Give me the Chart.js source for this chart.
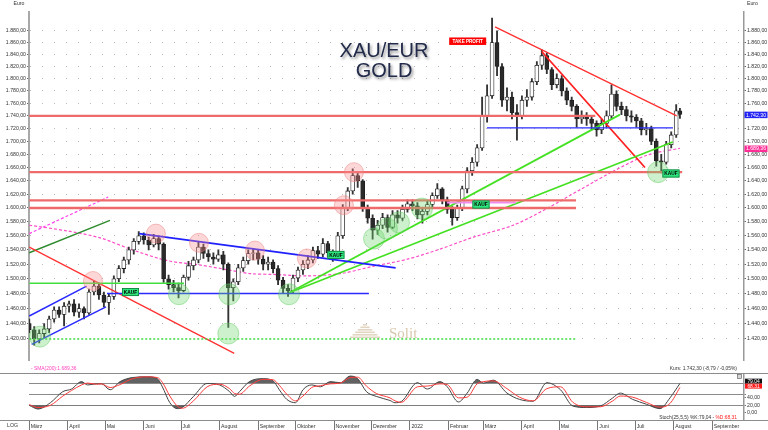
<!DOCTYPE html>
<html><head><meta charset="utf-8">
<script src="https://cdn.jsdelivr.net/npm/chart.js@4.4.1/dist/chart.umd.min.js"></script>
<style>
html,body{margin:0;padding:0;background:#fff;overflow:hidden}
#wrap{position:relative;width:768px;height:430px;background:#fff}
#cA{position:absolute;left:0;top:0;width:768px;height:372px}
#cB{position:absolute;left:0;top:372px;width:768px;height:58px}
</style></head><body>
<div id="wrap"><canvas id="cA" width="768" height="372"></canvas><canvas id="cB" width="768" height="58"></canvas></div>
<script>
// ---------- DATA (days counted from 1 March 2021) ----------
const candleDays = [0,4,8,12,16,20,24,28,32,36,40,44,48,52,56,60,64,68,72,76,80,84,88,92,96,100,104,108,112,116,120,124,128,132,136,140,144,148,152,156,160,164,168,172,176,180,184,188,192,196,200,204,208,212,216,220,224,228,232,236,240,244,248,252,256,260,264,268,272,276,280,284,288,292,296,300,304,308,312,316,320,324,328,332,336,340,344,348,352,356,360,364,368,372,376,380,384,388,392,396,400,404,408,412,416,420,424,428,432,436,440,444,448,452,456,460,464,468,472,476,480,484,488,492,496,500,504,508,512,516,520,523];
const opens  = [1440,1432,1420,1427,1433,1446,1458,1452,1463,1466,1455,1460,1454,1482,1490,1478,1468,1476,1500,1514,1526,1540,1552,1560,1554,1547,1556,1548,1500,1492,1488,1484,1502,1518,1526,1544,1535,1530,1527,1533,1520,1488,1496,1515,1525,1535,1536,1527,1520,1523,1514,1498,1487,1484,1501,1512,1520,1526,1539,1534,1549,1536,1531,1560,1600,1625,1648,1640,1600,1585,1568,1575,1586,1572,1590,1585,1598,1606,1603,1590,1595,1605,1618,1628,1612,1598,1586,1600,1628,1655,1668,1690,1740,1772,1860,1820,1765,1770,1745,1740,1765,1770,1795,1822,1838,1815,1790,1800,1780,1765,1755,1735,1738,1735,1728,1718,1728,1740,1775,1755,1750,1740,1738,1732,1718,1720,1700,1670,1668,1695,1710,1748];
const highs  = [1446,1436,1432,1440,1450,1462,1462,1468,1470,1472,1466,1462,1486,1497,1494,1482,1480,1504,1518,1530,1544,1556,1566,1564,1558,1562,1560,1550,1505,1498,1494,1505,1524,1530,1552,1548,1540,1536,1540,1538,1522,1500,1520,1530,1540,1542,1540,1532,1530,1526,1518,1502,1492,1505,1516,1525,1532,1544,1545,1556,1552,1540,1565,1605,1630,1658,1652,1642,1604,1590,1582,1592,1590,1596,1596,1604,1612,1612,1608,1600,1610,1622,1636,1630,1616,1602,1604,1632,1660,1675,1695,1770,1790,1902,1880,1825,1785,1778,1758,1772,1782,1800,1828,1848,1842,1818,1808,1805,1785,1770,1758,1748,1745,1740,1732,1735,1748,1790,1780,1762,1755,1748,1742,1736,1728,1724,1704,1680,1700,1715,1758,1752];
const lows   = [1428,1412,1415,1422,1428,1442,1448,1437,1455,1450,1448,1446,1452,1478,1472,1462,1452,1472,1496,1508,1520,1534,1548,1548,1540,1544,1540,1495,1486,1482,1474,1482,1498,1512,1522,1528,1524,1520,1524,1512,1435,1470,1492,1510,1520,1526,1520,1512,1512,1508,1492,1480,1476,1480,1496,1506,1514,1522,1528,1530,1530,1524,1528,1556,1596,1620,1630,1595,1578,1555,1562,1570,1565,1570,1578,1582,1594,1596,1584,1578,1590,1600,1614,1606,1592,1575,1582,1596,1622,1648,1662,1686,1730,1768,1805,1755,1748,1735,1702,1735,1755,1765,1790,1815,1808,1782,1785,1772,1758,1748,1722,1728,1725,1718,1708,1712,1722,1736,1748,1742,1732,1730,1722,1710,1710,1695,1662,1652,1665,1690,1706,1736];
const closes = [1432,1420,1427,1433,1446,1458,1452,1463,1466,1455,1460,1454,1482,1490,1478,1468,1476,1500,1514,1526,1540,1552,1560,1554,1547,1556,1548,1500,1492,1488,1484,1502,1518,1526,1544,1535,1530,1527,1533,1520,1488,1496,1515,1525,1535,1536,1527,1520,1523,1514,1498,1487,1484,1501,1512,1520,1526,1539,1534,1549,1536,1531,1560,1600,1625,1648,1640,1600,1585,1568,1575,1586,1572,1590,1585,1598,1606,1603,1590,1595,1605,1618,1628,1612,1598,1586,1600,1628,1655,1668,1690,1740,1772,1860,1820,1765,1770,1745,1740,1765,1770,1795,1822,1838,1815,1790,1800,1780,1765,1755,1735,1738,1735,1728,1718,1728,1740,1775,1755,1750,1740,1738,1732,1718,1720,1700,1670,1668,1695,1710,1748,1742.3];

const smaDays = [0,30,57,83,111,137,164,178,196,223,250,276,304,330,357,389,416,443,469,497,523];
const smaVals = [1575,1567,1557,1540,1525,1519,1511,1507,1506,1504,1507,1517,1527,1541,1558,1575,1599,1627,1654,1679,1689.36];

const stochDays = [0,7,17,27,34,42,47,54,58,65,73,83,95,103,107,113,119,123,132,143,153,161,165,169,177,188,196,201,207,214,220,227,234,242,250,258,264,271,279,290,294,299,312,320,330,336,345,352,360,365,373,384,394,405,416,427,437,448,459,469,475,485,496,507,515,523];
const stochK = [20,10,27,57,64,84,75,78,78,62,84,95,97,92,70,27,11,14,44,79,75,57,44,57,84,92,86,62,36,27,62,75,70,84,81,99,92,57,44,33,27,30,81,64,84,70,29,53,90,80,88,53,36,31,81,62,18,14,18,40,53,36,23,11,40,79.04];
const stochD = [22,14,20,45,60,75,80,77,78,68,76,92,97,95,82,45,18,12,32,70,77,65,52,50,72,90,89,74,50,32,45,68,73,78,80,95,96,72,52,40,32,28,70,72,78,76,40,42,78,84,86,65,42,32,65,70,28,16,16,32,45,42,28,15,25,68.31];

const priceTicks = [1420,1440,1460,1480,1500,1520,1540,1560,1580,1600,1620,1640,1660,1680,1700,1720,1740,1760,1780,1800,1820,1840,1860,1880];
const monthDays = [0,31,61,92,122,153,184,214,245,275,306,337,365,396,426,457,487,518,549];
const monthLabels = ['März','April','Mai','Juni','Juli','August','September','Oktober','November','Dezember','2022','Februar','März','April','Mai','Juni','Juli','August','September'];
const stochTicks = [0,20,40,50,80];

// horizontal levels: price, start day, end day
const hLevels = [1740,1653,1611,1600,1480,1721,1494,1420,1608];
const hStart  = [0,0,0,0,62.5,367.9,0,0,335.8];
const hEnd    = [455,524.8,439.5,439.5,273,517.4,124.4,439.5,391.2];
// trend lines
const tStartDay   = [0,1.9,0,0,0,88.4,209,209,374.4,411.9];
const tStartPrice = [1450,1413,1544,1536,1563,1563,1481,1481,1887,1845];
const tEndDay     = [46.1,61.7,164.8,64.9,63.5,294.5,474.8,517.2,520.4,494.9];
const tEndPrice   = [1490,1462,1401.5,1582,1616,1515,1742,1699,1740,1660];

const redCircleDays   = [51.2,101.8,136.4,181.4,223.2,252.9,261.0];
const redCirclePrices = [1497,1563,1550,1539,1528,1604,1653];
const greenCircleDays   = [8.6,120.3,160.8,160,208.8,277.1,287.5,297.2,315.7,505.4];
const greenCirclePrices = [1423,1479,1479,1427,1479,1556,1570,1579,1599,1653];

const kaufDays = [81.4,246.5,363.1,515.8];
const kaufPrices = [1482,1533,1605,1651];
const takeProfitDay = 352.4, takeProfitPrice = 1862.4;

const lastPrice = 1742.30, lastSma = 1689.36, lastK = 79.04, lastD = 68.31;
const kursText = 'Kurs: 1.742,30 (-8,79 / -0,05%)';

// ---------- helpers ----------
const F = "'Liberation Sans', Arial, sans-serif";
const X_MIN = -0.2, X_MAX = 574.5, P_MIN = 1392.4, P_MAX = 1913.5, S_MIN = -19.7, S_MAX = 104.6;
function de(v){const s=Number(v).toFixed(2).split('.');return s[0].replace(/\B(?=(\d{3})+(?!\d))/g,'.')+','+s[1];}

const hStyles = [
 {c:'#ef6b6b',w:2.2},{c:'#ef6b6b',w:2.2},{c:'#ef6b6b',w:2.2},{c:'#ef6b6b',w:2.4},
 {c:'#2a2aff',w:1.3},{c:'#2a2aff',w:1.3},{c:'#3ee03e',w:1.6},{c:'#3ee03e',w:1.4,d:[2,2]},{c:'#f08cf0',w:2}
];
const tStyles = [
 {c:'#2a2aff',w:1.5},{c:'#2a2aff',w:1.5},{c:'#ff3030',w:1.3},{c:'#2e8b2e',w:1.4},{c:'#ff44ee',w:1.2,d:[3,2]},
 {c:'#2020ff',w:1.8},{c:'#44e022',w:1.8},{c:'#44e022',w:1.8},{c:'#ff3030',w:1.3},{c:'#ff2020',w:1.8}
];

const dsA = [];
dsA.push({type:'line',data:redCircleDays.map((d,i)=>({x:d,y:redCirclePrices[i]})),showLine:false,pointRadius:9.5,
  pointBackgroundColor:'rgba(248,140,140,0.35)',pointBorderColor:'rgba(235,120,120,0.45)',pointBorderWidth:1,order:0});
dsA.push({type:'line',data:greenCircleDays.map((d,i)=>({x:d,y:greenCirclePrices[i]})),showLine:false,pointRadius:10.5,
  pointBackgroundColor:'rgba(110,215,110,0.35)',pointBorderColor:'rgba(90,200,90,0.45)',pointBorderWidth:1,order:0});
hLevels.forEach((p,i)=>{
  dsA.push({type:'line',data:[{x:hStart[i],y:p},{x:hEnd[i],y:p}],borderColor:hStyles[i].c,borderWidth:hStyles[i].w,
    borderDash:hStyles[i].d||[],pointRadius:0,tension:0,order:1});
});
tStartDay.forEach((d,i)=>{
  dsA.push({type:'line',data:[{x:d,y:tStartPrice[i]},{x:tEndDay[i],y:tEndPrice[i]}],borderColor:tStyles[i].c,borderWidth:tStyles[i].w,
    borderDash:tStyles[i].d||[],pointRadius:0,tension:0,order:1});
});
dsA.push({type:'line',data:smaDays.map((d,i)=>({x:d,y:smaVals[i]})),borderColor:'#ff4fc8',borderWidth:1.2,borderDash:[3,2],
  pointRadius:0,tension:0.3,order:4});
dsA.push({type:'bar',data:candleDays.map((d,i)=>({x:d,y:[lows[i],highs[i]]})),backgroundColor:'#333',barThickness:1.2,
  grouped:false,borderWidth:0,order:3});
dsA.push({type:'bar',data:candleDays.map((d,i)=>({x:d,y:[opens[i],closes[i]]})),
  backgroundColor:(ctx)=>{const i=ctx.dataIndex;return closes[i]>=opens[i]?'#ffffff':'#2a2a2a';},
  borderColor:'#1e1e1e',borderWidth:0.8,borderSkipped:false,barThickness:4,grouped:false,order:2});

function drawBox(c,cx,cy,w,h,fill,stroke,text,tcol,font){
  c.fillStyle=fill;c.fillRect(cx-w/2,cy-h/2,w,h);
  if(stroke){c.strokeStyle=stroke;c.lineWidth=0.8;c.strokeRect(cx-w/2+0.4,cy-h/2+0.4,w-0.8,h-0.8);}
  c.fillStyle=tcol;c.font=font;c.textAlign='center';c.textBaseline='middle';c.fillText(text,cx,cy+0.3);
}

const annotA = {
  id:'annotA',
  beforeDatasetsDraw(chart){
    const c=chart.ctx; c.save();
    c.fillStyle='#e2d6c2';
    for(let k=0;k<6;k++){
      const y0=324+k*2.5, half=2+k*2.6;
      c.fillRect(365-half,y0,half*2,1.6);
    }
    c.fillStyle='#d8c8ad';c.font="15px 'Liberation Serif', serif";c.textAlign='left';c.textBaseline='alphabetic';
    c.fillText('Solit',389,337.5);
    c.restore();
  },
  afterDatasetsDraw(chart){
    const c=chart.ctx, xs=chart.scales.x, ys=chart.scales.y;
    c.save();
    c.font="20px 'Liberation Sans', Arial, sans-serif";c.textAlign='center';c.textBaseline='alphabetic';
    c.shadowColor='rgba(0,0,0,0.45)';c.shadowBlur=3;c.shadowOffsetX=1.5;c.shadowOffsetY=1.5;
    c.fillStyle='#222b4a';
    c.fillText('XAU/EUR',384,57);c.fillText('GOLD',384,77);
    c.shadowColor='transparent';c.shadowBlur=0;c.shadowOffsetX=0;c.shadowOffsetY=0;
    drawBox(c,xs.getPixelForValue(takeProfitDay),ys.getPixelForValue(takeProfitPrice),37,7.5,'#ff0000',null,'TAKE PROFIT','#fff',"bold 4.6px "+F);
    kaufDays.forEach((d,i)=>drawBox(c,xs.getPixelForValue(d),ys.getPixelForValue(kaufPrices[i]),17,8,'#2ee47c','#127a3c','KAUF','#000',"bold 4.8px "+F));
    drawBox(c,756,ys.getPixelForValue(lastPrice)+0.5,23,6.5,'#2323f5',null,de(lastPrice),'#fff',"5.2px "+F);
    drawBox(c,756,ys.getPixelForValue(lastSma)+0.5,23,6.5,'#ff2d96',null,de(lastSma),'#fff',"5.2px "+F);
    c.fillStyle='#333';c.font="5.2px "+F;c.textBaseline='middle';
    c.textAlign='center';c.fillText('Euro',19,4);
    c.textAlign='left';c.fillText('Euro',747,4);
    c.font="4.9px "+F;c.textAlign='right';c.fillStyle='#333';c.fillText(kursText,737,369);
    c.textAlign='left';c.fillStyle='#ff3fbf';c.fillText('- SMA(200):'+de(lastSma),31,369);
    c.restore();
  }
};

new Chart(document.getElementById('cA'),{
  type:'line',
  data:{datasets:dsA},
  options:{
    responsive:false,animation:false,devicePixelRatio:1,events:[],
    layout:{padding:0},
    plugins:{legend:{display:false},tooltip:{enabled:false}},
    scales:{
      x:{type:'linear',position:'bottom',min:X_MIN,max:X_MAX,bounds:'data',offset:false,display:true,
        afterFit:s=>{s.height=0;s.paddingLeft=0;s.paddingRight=0;s.paddingTop=0;s.paddingBottom=0;},
        ticks:{display:false},grid:{display:false,offset:false},border:{display:false}},
      y:{type:'logarithmic',position:'left',min:P_MIN,max:P_MAX,bounds:'data',
        afterBuildTicks:s=>{s.ticks=priceTicks.map(v=>({value:v}));},
        afterFit:s=>{s.width=29;s.paddingTop=0;s.paddingBottom=0;},
        ticks:{callback:v=>de(v),font:{size:5.2,family:F},color:'#333',padding:1,autoSkip:false},
        grid:{color:'#b8b8b8',lineWidth:1,tickLength:2,tickColor:'#666',drawTicks:true},
        border:{display:true,color:'#a8a8a8',width:2,dash:[1,11]}},
      yr:{type:'logarithmic',position:'right',min:P_MIN,max:P_MAX,bounds:'data',
        afterBuildTicks:s=>{s.ticks=priceTicks.map(v=>({value:v}));},
        afterFit:s=>{s.width=24;s.paddingTop=0;s.paddingBottom=0;},
        ticks:{callback:v=>de(v),font:{size:5.2,family:F},color:'#333',padding:1,autoSkip:false},
        grid:{drawOnChartArea:false,tickLength:2,tickColor:'#666'},
        border:{display:true,color:'#999',width:1.5}}
    }
  },
  plugins:[annotA]
});

// ---------- stochastic panel ----------
const grayFill='rgba(70,70,70,0.85)';
const kPts = stochDays.map((d,i)=>({x:d,y:stochK[i]}));
const dPts = stochDays.map((d,i)=>({x:d,y:stochD[i]}));
const annotB = {
  id:'annotB',
  afterDraw(chart){
    const c=chart.ctx, sy=chart.scales.s;
    c.save();
    c.strokeStyle='#8c8c8c';c.lineWidth=1;
    c.beginPath();c.moveTo(0,1.5);c.lineTo(768,1.5);c.moveTo(0,48.5);c.lineTo(768,48.5);c.stroke();
    c.fillStyle='#d8d8d8';c.fillRect(737.5,2.5,4,4);c.strokeStyle='#555';c.lineWidth=0.6;c.strokeRect(737.5,2.5,4,4);
    drawBox(c,753.5,sy.getPixelForValue(lastK)-2.3,17,5,'#111',null,de(lastK),'#fff',"4.9px "+F);
    drawBox(c,753.5,sy.getPixelForValue(lastD)-1.3,17,5,'#ff1a1a',null,de(lastD),'#fff',"4.9px "+F);
    c.font="4.9px "+F;c.textBaseline='middle';c.textAlign='right';
    const red='%D:'+de(lastD);
    c.fillStyle='#ff2020';c.fillText(red,737,45.5);
    const w=c.measureText(red).width;
    c.fillStyle='#333';c.fillText('Stoch(25,5,5) %K:'+de(lastK)+' - ',737-w,45.5);
    c.textAlign='left';c.font="5.2px "+F;c.fillText('LOG',7,54);
    c.restore();
  }
};
new Chart(document.getElementById('cB'),{
  type:'line',
  data:{datasets:[
    {data:dPts,borderColor:'#ff3b3b',borderWidth:1,pointRadius:0,tension:0.4,cubicInterpolationMode:'monotone',fill:false,yAxisID:'s',order:0},
    {data:kPts,borderColor:'#444',borderWidth:1,pointRadius:0,tension:0.4,cubicInterpolationMode:'monotone',yAxisID:'s',order:1,
      fill:{target:{value:80},above:grayFill,below:'rgba(0,0,0,0)'}},
    {data:kPts,borderColor:'rgba(0,0,0,0)',borderWidth:0,pointRadius:0,tension:0.4,cubicInterpolationMode:'monotone',yAxisID:'s',order:2,
      fill:{target:{value:20},above:'rgba(0,0,0,0)',below:grayFill}}
  ]},
  options:{
    responsive:false,animation:false,devicePixelRatio:1,events:[],
    layout:{padding:{left:29,top:2,right:0,bottom:0}},
    plugins:{legend:{display:false},tooltip:{enabled:false}},
    scales:{
      x:{type:'linear',position:'bottom',min:X_MIN,max:X_MAX,bounds:'data',offset:false,
        afterBuildTicks:s=>{s.ticks=monthDays.map(v=>({value:v}));},
        afterFit:s=>{s.height=10;s.paddingLeft=0;s.paddingRight=0;},
        ticks:{callback:(v,i)=>monthLabels[i],align:'start',padding:-7,labelOffset:1.5,font:{size:5.2,family:F},color:'#333',autoSkip:false,maxRotation:0},
        grid:{drawOnChartArea:false,tickLength:10,tickColor:'#777',lineWidth:1},
        border:{display:true,color:'#888',width:1}},
      s:{type:'linear',position:'right',min:S_MIN,max:S_MAX,bounds:'data',
        afterBuildTicks:s=>{s.ticks=stochTicks.map(v=>({value:v}));},
        afterFit:s=>{s.width=24;s.paddingTop=0;s.paddingBottom=0;},
        ticks:{callback:v=>(v<=40?de(v):''),font:{size:5.2,family:F},color:'#333',padding:1,autoSkip:false},
        grid:{color:(ctx)=>([20,50,80].includes(ctx.tick&&ctx.tick.value)?'#8a8a8a':'rgba(0,0,0,0)'),lineWidth:1,tickLength:2,tickColor:'#777'},
        border:{display:true,color:'#999',width:1.5}}
    }
  },
  plugins:[annotB]
});
</script>
</body></html>
